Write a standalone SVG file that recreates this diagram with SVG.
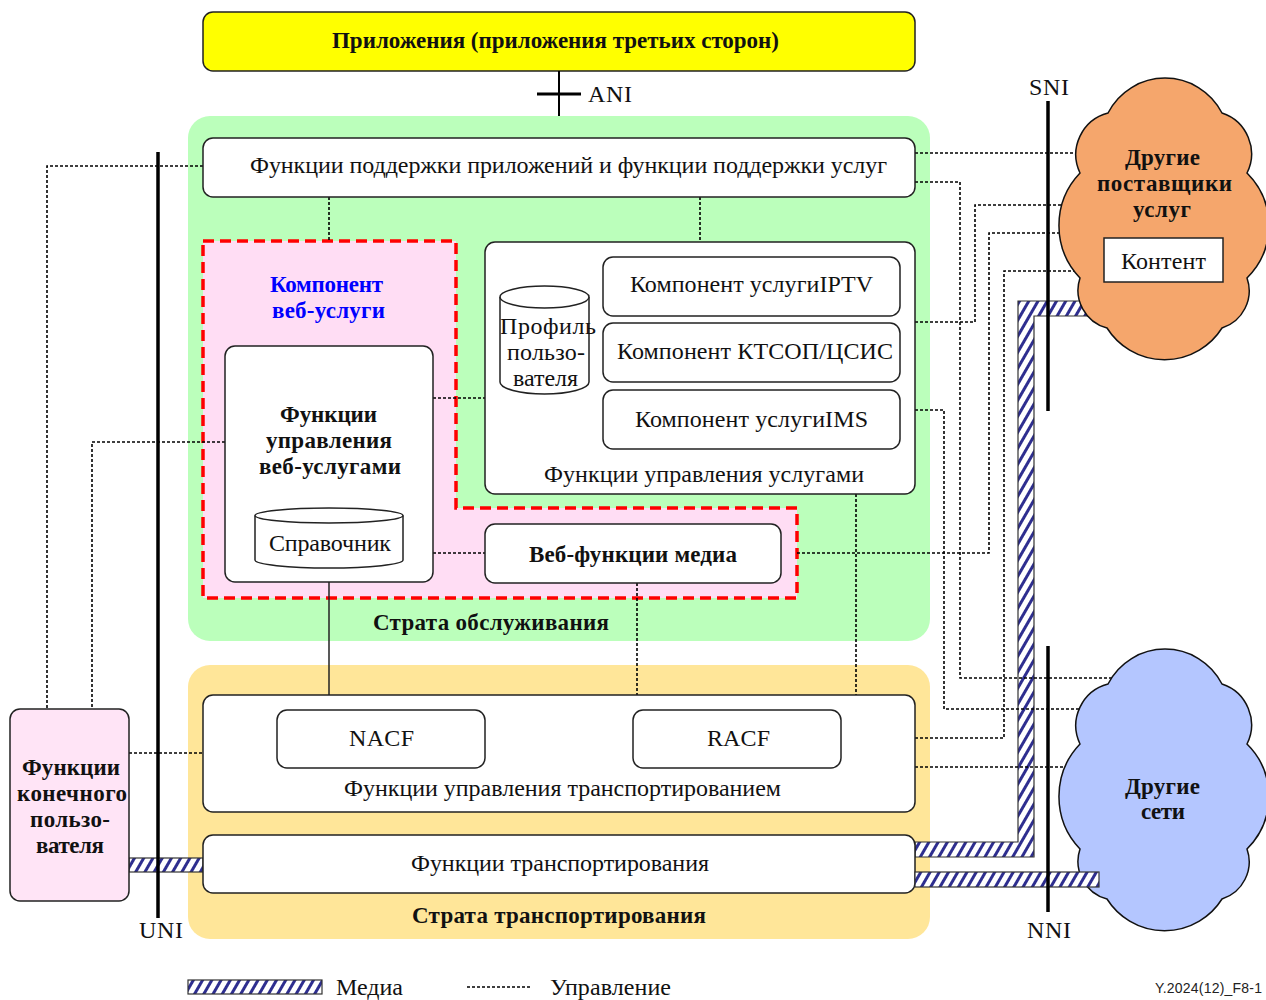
<svg xmlns="http://www.w3.org/2000/svg" width="1266" height="1000" viewBox="0 0 1266 1000">
  <style>
    .box { fill: #ffffff; stroke: #222222; stroke-width: 1.5; }
    .t { font-family: "Liberation Serif", "Times New Roman", serif; font-size: 24px; fill: #111111; text-anchor: middle; }
    .b { font-family: "Liberation Serif", "Times New Roman", serif; font-size: 23px; font-weight: bold; fill: #111111; text-anchor: middle; }
    .ctl { fill: none; stroke: #000000; stroke-width: 1.6; stroke-dasharray: 3 2; }
    .media { fill: url(#hatch); stroke: #333333; stroke-width: 1.2; }
    .iface { stroke: #000000; stroke-width: 3.5; }
    .cloud { stroke: #111111; stroke-width: 1.5; }
  </style>
  <defs>
    <pattern id="hatch" patternUnits="userSpaceOnUse" width="8" height="8" patternTransform="rotate(30)">
      <rect x="0" y="0" width="8" height="8" fill="#ffffff"/>
      <rect x="0" y="0" width="3" height="8" fill="#2e2e8f"/>
    </pattern>
    <path id="cloudShape" d="M1108,35 A64,64 0 0 1 1222,35 A43,43 0 0 1 1247,95 A74,74 0 0 1 1247,200 A39,39 0 0 1 1222,250 A68,68 0 0 1 1107,250 A39,39 0 0 1 1080,200 A76,76 0 0 1 1080,95 A43,43 0 0 1 1108,35 Z"/>
  </defs>

  <!-- Strata backgrounds -->
  <g id="service-stratum">
    <rect x="188" y="116" width="742" height="525" rx="22" fill="#bbffbb"/>
    <text class="b" x="491" y="630" textLength="236" lengthAdjust="spacing">Страта обслуживания</text>
  </g>
  <g id="transport-stratum">
    <rect x="188" y="665" width="742" height="274" rx="22" fill="#ffe699"/>
    <text class="b" x="559" y="923" textLength="294" lengthAdjust="spacing">Страта транспортирования</text>
  </g>

  <!-- Web service component area -->
  <g id="web-component">
    <path d="M203,241 H456 V508 H797 V598 H203 Z" fill="#ffddf4" stroke="#ff0000" stroke-width="3.5" stroke-dasharray="11 6"/>
    <text class="b" x="326.5" y="292" fill="#0000ff" style="fill:#0000ff" textLength="113" lengthAdjust="spacing">Компонент</text>
    <text class="b" x="328.5" y="318" style="fill:#0000ff" textLength="113" lengthAdjust="spacing">веб-услуги</text>
  </g>

  <!-- Connectors -->
  <g id="connectors">
    <!-- media paths -->
    <rect class="media" x="129" y="858" width="74" height="14"/>
    <path class="media" d="M915,842 H1018 V301 H1110 V316 H1034 V857 H915 Z"/>
    <!-- control paths -->
    <path class="ctl" d="M203,166 H47 V709"/>
    <path class="ctl" d="M225,442 H92 V709"/>
    <path class="ctl" d="M129,753 H203"/>
    <path class="ctl" d="M329,197 V241"/>
    <path class="ctl" d="M700,197 V242"/>
    <path class="ctl" d="M433,398 H485"/>
    <path class="ctl" d="M433,553 H485"/>
    <path class="ctl" d="M637,583 V695"/>
    <path class="ctl" d="M856,494 V695"/>
    <path class="ctl" d="M915,153 H1100"/>
    <path class="ctl" d="M915,182 H960 V678 H1120"/>
    <path class="ctl" d="M915,322 H975 V205 H1075"/>
    <path class="ctl" d="M797,553 H989 V233 H1075"/>
    <path class="ctl" d="M915,738 H1004 V271 H1080"/>
    <path class="ctl" d="M915,410 H944 V709 H1100"/>
    <path class="ctl" d="M915,767 H1080"/>
  </g>

  <!-- Applications -->
  <g id="applications">
    <rect x="203" y="12" width="712" height="59" rx="10" fill="#ffff00" stroke="#222222" stroke-width="1.5"/>
    <text class="b" x="555.5" y="48" textLength="447" lengthAdjust="spacing">Приложения (приложения третьих сторон)</text>
  </g>
  <g id="ani">
    <line x1="559" y1="71" x2="559" y2="116" stroke="#000" stroke-width="2"/>
    <line x1="537" y1="94" x2="581" y2="94" stroke="#000" stroke-width="3"/>
    <text class="t" x="610" y="102" textLength="44" lengthAdjust="spacing">ANI</text>
  </g>

  <g id="app-support">
    <rect class="box" x="203" y="138" width="712" height="59" rx="10"/>
    <text class="t" x="568.5" y="173" textLength="637" lengthAdjust="spacing">Функции поддержки приложений и функции поддержки услуг</text>
  </g>

  <g id="web-service-control">
    <rect class="box" x="225" y="346" width="208" height="236" rx="10"/>
    <text class="b" x="328.5" y="422" textLength="97" lengthAdjust="spacing">Функции</text>
    <text class="b" x="329" y="448" textLength="126" lengthAdjust="spacing">управления</text>
    <text class="b" x="330" y="474" textLength="142" lengthAdjust="spacing">веб-услугами</text>
  </g>
  <g id="directory">
    <path class="box" d="M255,515.5 V560 A74,8 0 0 0 403,560 V515.5"/>
    <ellipse class="box" cx="329" cy="515.5" rx="74" ry="7.5"/>
    <text class="t" x="330" y="551" textLength="122" lengthAdjust="spacing">Справочник</text>
  </g>

  <g id="service-control">
    <rect class="box" x="485" y="242" width="430" height="252" rx="10"/>
    <text class="t" x="704" y="482" textLength="320" lengthAdjust="spacing">Функции управления услугами</text>
  </g>
  <g id="user-profile">
    <path class="box" d="M500,297 V382 A44.5,12 0 0 0 589,382 V297"/>
    <ellipse class="box" cx="544.5" cy="297" rx="44.5" ry="11"/>
    <text class="t" x="548" y="334" textLength="96" lengthAdjust="spacing">Профиль</text>
    <text class="t" x="546" y="360" textLength="78" lengthAdjust="spacing">пользо-</text>
    <text class="t" x="545.5" y="386" textLength="65" lengthAdjust="spacing">вателя</text>
  </g>
  <g id="iptv">
    <rect class="box" x="603" y="257" width="297" height="59" rx="10"/>
    <text class="t" x="751.5" y="292" textLength="243" lengthAdjust="spacing">Компонент услугиIPTV</text>
  </g>
  <g id="pstn">
    <rect class="box" x="603" y="323" width="297" height="59" rx="10"/>
    <text class="t" x="755" y="359" textLength="276" lengthAdjust="spacing">Компонент КТСОП/ЦСИС</text>
  </g>
  <g id="ims">
    <rect class="box" x="603" y="390" width="297" height="59" rx="10"/>
    <text class="t" x="751.5" y="427" textLength="233" lengthAdjust="spacing">Компонент услугиIMS</text>
  </g>

  <g id="web-media">
    <rect class="box" x="485" y="524" width="296" height="59" rx="10"/>
    <text class="b" x="633" y="562" textLength="208" lengthAdjust="spacing">Веб-функции медиа</text>
  </g>

  <!-- solid link to transport control -->
  <line x1="329" y1="582" x2="329" y2="695" stroke="#222" stroke-width="1.5"/>

  <g id="transport-control">
    <rect class="box" x="203" y="695" width="712" height="117" rx="10"/>
    <text class="t" x="562.5" y="796" textLength="437" lengthAdjust="spacing">Функции управления транспортированием</text>
  </g>
  <g id="nacf">
    <rect class="box" x="277" y="710" width="208" height="58" rx="10"/>
    <text class="t" x="381.5" y="746" textLength="65" lengthAdjust="spacing">NACF</text>
  </g>
  <g id="racf">
    <rect class="box" x="633" y="710" width="208" height="58" rx="10"/>
    <text class="t" x="738.5" y="746" textLength="63" lengthAdjust="spacing">RACF</text>
  </g>
  <g id="transport">
    <rect class="box" x="203" y="835" width="712" height="58" rx="10"/>
    <text class="t" x="560" y="871" textLength="298" lengthAdjust="spacing">Функции транспортирования</text>
  </g>

  <g id="end-user">
    <rect x="10" y="709" width="119" height="192" rx="10" fill="#ffe4f6" stroke="#222222" stroke-width="1.5"/>
    <text class="b" x="71" y="775" textLength="98" lengthAdjust="spacing">Функции</text>
    <text class="b" x="72" y="801" textLength="110" lengthAdjust="spacing">конечного</text>
    <text class="b" x="70" y="827" textLength="80" lengthAdjust="spacing">пользо-</text>
    <text class="b" x="70" y="853" textLength="68" lengthAdjust="spacing">вателя</text>
  </g>

  <g id="other-providers">
    <use href="#cloudShape" class="cloud" fill="#f5a66c" transform="translate(0,78)"/>
    <text class="b" x="1162.5" y="165" textLength="75" lengthAdjust="spacing">Другие</text>
    <text class="b" x="1164.5" y="191" textLength="135" lengthAdjust="spacing">поставщики</text>
    <text class="b" x="1162" y="217" textLength="58" lengthAdjust="spacing">услуг</text>
    <rect x="1104" y="238" width="119" height="44" fill="#ffffff" stroke="#222222" stroke-width="1.5"/>
    <text class="t" x="1163.5" y="269" textLength="85" lengthAdjust="spacing">Контент</text>
  </g>

  <g id="other-networks">
    <use href="#cloudShape" class="cloud" fill="#b4c6ff" transform="translate(0,649)"/>
    <text class="b" x="1162.5" y="794" textLength="75" lengthAdjust="spacing">Другие</text>
    <text class="b" x="1163" y="819" textLength="44" lengthAdjust="spacing">сети</text>
  </g>

  <!-- media path into other networks -->
  <rect class="media" x="915" y="872" width="184" height="15"/>

  <!-- Reference points -->
  <g id="uni">
    <line class="iface" x1="158" y1="152" x2="158" y2="918"/>
    <text class="t" x="161" y="938" textLength="44" lengthAdjust="spacing">UNI</text>
  </g>
  <g id="sni">
    <line class="iface" x1="1048" y1="101" x2="1048" y2="411"/>
    <text class="t" x="1049" y="95" textLength="40" lengthAdjust="spacing">SNI</text>
  </g>
  <g id="nni">
    <line class="iface" x1="1048" y1="646" x2="1048" y2="912"/>
    <text class="t" x="1049" y="938" textLength="44" lengthAdjust="spacing">NNI</text>
  </g>

  <!-- Legend -->
  <g id="legend">
    <rect class="media" x="188" y="980" width="134" height="14"/>
    <text class="t" x="336" y="995" style="text-anchor:start" textLength="67" lengthAdjust="spacing">Медиа</text>
    <line class="ctl" x1="467" y1="987" x2="532" y2="987"/>
    <text class="t" x="550" y="995" style="text-anchor:start" textLength="121" lengthAdjust="spacing">Управление</text>
    <text x="1155" y="993" font-family="'Liberation Sans', Arial, sans-serif" font-size="14" fill="#222" textLength="107" lengthAdjust="spacing">Y.2024(12)_F8-1</text>
  </g>
</svg>
